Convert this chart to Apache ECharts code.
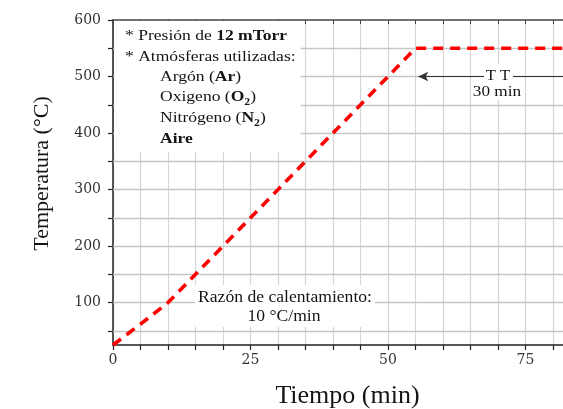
<!DOCTYPE html>
<html>
<head>
<meta charset="utf-8">
<script src="https://cdn.jsdelivr.net/npm/echarts@6/dist/echarts.min.js"></script>
<style>html,body{margin:0;padding:0;background:#fff;}#c{width:563px;height:409px;}</style>
</head>
<body>
<div id="c"></div>
<script>
// ---- data ----
var timeMin = [0, 5, 10, 55, 82];
var tempC   = [25, 62, 100, 550, 550];
var xTickLabels = [0, 25, 50, 75];
var yTickLabels = [100, 200, 300, 400, 500, 600];
var yGridValues = [50, 100, 150, 200, 250, 300, 350, 400, 450, 500, 550];
var xTitle = 'Tiempo (min)';
var yTitle = 'Temperatura (°C)';
var ttArrow = { fromX: 55.5, toX: 82, y: 500 };

var chart = echarts.init(document.getElementById('c'), null, { renderer: 'canvas' });
var serif = 'Liberation Serif, Times New Roman, serif';
var txt = '#141414';

var lineData = timeMin.map(function (t, i) { return [t, tempC[i]]; });

function range(a, b, s) { var r = []; for (var v = a; v <= b; v += s) r.push(v); return r; }

var legendRich = {
  n: { fontFamily: serif, fontSize: 15, color: txt, lineHeight: 20 },
  b: { fontFamily: serif, fontSize: 15, color: txt, fontWeight: 'bold', lineHeight: 20 },
  s: { fontFamily: serif, fontSize: 10, color: txt, fontWeight: 'bold', lineHeight: 11, verticalAlign: 'bottom' }
};
function legendLine(x, y, text) {
  return {
    type: 'text', x: x, y: y, z: 101, scaleX: 1.17, originX: 0, originY: 0,
    style: { text: text, rich: legendRich, fontFamily: serif, fontSize: 15, fill: txt, verticalAlign: 'middle', align: 'left' }
  };
}
function plainText(x, y, text, size, sx) {
  return {
    type: 'text', x: x, y: y, z: 101, scaleX: sx || 1.1,
    style: { text: text, fontFamily: serif, fontSize: size || 16, fill: txt, align: 'center', verticalAlign: 'middle' }
  };
}

var option = {
  animation: false,
  backgroundColor: '#ffffff',
  grid: { left: 113, right: -1, top: 20, bottom: 64, containLabel: false, outerBoundsMode: 'none' },
  xAxis: [{
    type: 'value', min: 0, max: 82, interval: 5,
    name: xTitle, nameLocation: 'middle', nameGap: 38,
    nameTextStyle: { fontFamily: serif, fontSize: 26, color: txt, padding: [0, 0, 0, 18] },
    axisLine: { show: true, onZero: false, lineStyle: { color: '#222', width: 1.5 } },
    axisTick: { show: true, length: 5, customValues: range(0, 80, 5), lineStyle: { color: '#222', width: 1.2 } },
    axisLabel: {
      margin: 8, fontFamily: 'DejaVu Serif', fontSize: 14, color: '#333',
      customValues: xTickLabels,
      formatter: function (v) { return xTickLabels.indexOf(v) >= 0 ? String(v) : ''; }
    },
    splitLine: { show: true, lineStyle: { color: '#d6d6d6', width: 1.2 } }
  }, {
    type: 'value', position: 'top', min: 0, max: 82, interval: 5,
    axisLine: { show: true, onZero: false, lineStyle: { color: '#444', width: 1.5 } },
    axisTick: { show: true, inside: true, length: 4, customValues: range(0, 80, 5), lineStyle: { color: '#444' } },
    axisLabel: { show: false },
    splitLine: { show: false }
  }],
  yAxis: [{
    type: 'value', min: 25, max: 600, interval: 25,
    name: yTitle, nameLocation: 'middle', nameGap: 60,
    nameTextStyle: { fontFamily: serif, fontSize: 22, color: txt, padding: [0, 0, 0, 18] },
    axisLine: { show: true, onZero: false, lineStyle: { color: '#222', width: 1.5 } },
    axisTick: { show: true, length: 5, customValues: range(50, 600, 50), lineStyle: { color: '#222', width: 1.2 } },
    axisLabel: {
      margin: 12, fontFamily: 'DejaVu Serif', fontSize: 14, color: '#333',
      customValues: yTickLabels,
      formatter: function (v) { return String(v); }
    },
    splitLine: { show: false }
  }],
  series: [{
    // carrier (invisible) for the horizontal grid lines every 50 °C
    type: 'line',
    data: lineData,
    lineStyle: { opacity: 0 },
    symbol: 'none',
    z: 1,
    silent: true,
    markLine: {
      silent: true,
      symbol: ['none', 'none'],
      label: { show: false },
      lineStyle: { color: '#c6c6c6', width: 1.4, type: 'solid' },
      data: yGridValues.map(function (v) { return { yAxis: v }; })
    }
  }, {
    type: 'line',
    data: lineData,
    symbol: 'none',
    lineStyle: { color: '#ff0000', width: 3.6, type: [10, 7] },
    z: 5,
    markLine: {
      silent: true,
      symbol: ['arrow', 'none'],
      symbolSize: [7, 10],
      label: { show: false },
      lineStyle: { color: '#333', width: 1.2, type: 'solid' },
      data: [[{ coord: [ttArrow.fromX, ttArrow.y] }, { coord: [ttArrow.toX, ttArrow.y] }]]
    }
  }],
  graphic: { elements: [
    // white backgrounds of the annotation boxes
    { type: 'rect', z: 100, shape: { x: 114.5, y: 21, width: 186, height: 131 }, style: { fill: '#fff' } },
    { type: 'rect', z: 100, shape: { x: 195, y: 285, width: 180, height: 42 }, style: { fill: '#fff' } },
    { type: 'rect', z: 100, shape: { x: 484, y: 64, width: 29, height: 20 }, style: { fill: '#fff' } },
    { type: 'rect', z: 100, shape: { x: 472, y: 83, width: 50, height: 17 }, style: { fill: '#fff' } },
    legendLine(125, 36.5, '{n|* Presión de }{b|12 mTorr}'),
    legendLine(125, 57, '{n|* Atmósferas utilizadas:}'),
    legendLine(160, 77, '{n|Argón (}{b|Ar}{n|)}'),
    legendLine(160, 97.5, '{n|Oxigeno (}{b|O}{s|2}{n|)}'),
    legendLine(160, 118.5, '{n|Nitrógeno (}{b|N}{s|2}{n|)}'),
    legendLine(160, 139.5, '{b|Aire}'),
    plainText(285, 298, 'Razón de calentamiento:', 16, 1.1),
    plainText(284, 317, '10 °C/min', 16, 1.1),
    plainText(498, 76, 'T T', 15, 1.1),
    plainText(497, 92, '30 min', 15, 1.15)
  ] }
};
chart.setOption(option);
</script>
</body>
</html>
